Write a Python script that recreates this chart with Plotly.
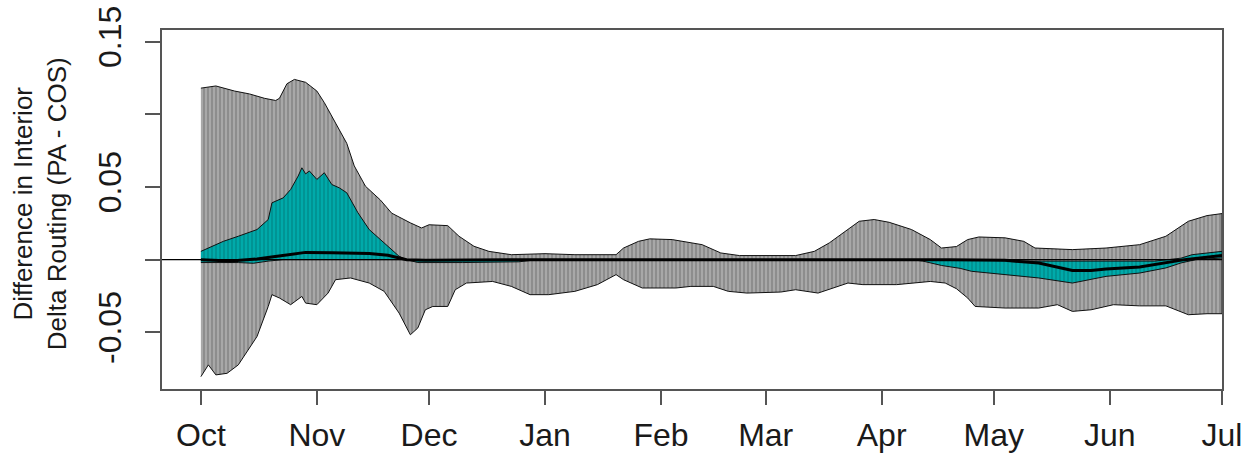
import pandas as pd
import plotly.graph_objects as go

# days since 1 Oct (water year)
max_days = [0, 4, 9, 13, 17, 20, 21, 23, 25, 28, 31, 33, 36, 39, 41, 44, 48, 51, 56, 59, 61, 66, 69, 73, 77,
            83, 92, 100, 111, 113, 117, 120, 126, 131, 134, 139, 144, 159, 164, 168, 173, 176, 180, 184, 190,
            195, 198, 202, 205, 208, 215, 220, 223, 233, 242, 251, 258, 264, 269, 273]
max_vals = [0.118, 0.1195, 0.116, 0.114, 0.111, 0.1095, 0.111, 0.121, 0.124, 0.122, 0.116, 0.108, 0.094, 0.080,
            0.0645, 0.0505, 0.041, 0.032, 0.0253, 0.0218, 0.024, 0.0234, 0.0161, 0.0092, 0.0057, 0.0034, 0.0041,
            0.0034, 0.0034, 0.008, 0.0126, 0.0143, 0.0138, 0.0115, 0.0103, 0.0046, 0.0028, 0.0028, 0.0057, 0.0115,
            0.0207, 0.0264, 0.0276, 0.0257, 0.0207, 0.0138, 0.008, 0.009, 0.0138, 0.0156, 0.015, 0.0126, 0.008,
            0.0069, 0.008, 0.0103, 0.0161, 0.0264, 0.0303, 0.0317]

min_days = [0, 2, 4, 7, 10, 12, 15, 18, 19, 21, 24, 27, 28, 31, 34, 36, 40, 45, 49, 53, 56, 58, 60, 62, 66, 68,
            71, 78, 83, 88, 93, 100, 106, 111, 113, 118, 127, 131, 137, 141, 146, 155, 159, 165, 168, 173, 177,
            186, 195, 199, 202, 205, 207, 215, 224, 229, 233, 238, 244, 251, 258, 264, 269, 273]
min_vals = [-0.0805, -0.0724, -0.0793, -0.0782, -0.0724, -0.0644, -0.0529, -0.0322, -0.0241, -0.0264, -0.031,
            -0.0253, -0.0299, -0.031, -0.023, -0.0138, -0.0126, -0.0161, -0.0218, -0.0368, -0.0517, -0.047,
            -0.0345, -0.0322, -0.0322, -0.0207, -0.0161, -0.015, -0.0184, -0.0241, -0.0241, -0.0218, -0.0172,
            -0.0103, -0.0138, -0.0195, -0.0195, -0.0184, -0.0184, -0.0218, -0.023, -0.0223, -0.0207, -0.023,
            -0.0207, -0.0161, -0.0172, -0.0172, -0.015, -0.0161, -0.02, -0.0264, -0.0322, -0.0333, -0.0333,
            -0.031, -0.0356, -0.0345, -0.031, -0.0318, -0.0318, -0.0379, -0.0372, -0.0372]

q75_days = [0, 6, 10, 15, 18, 19, 22, 24, 26, 27, 28, 29, 31, 33, 35, 37, 39, 42, 45, 49, 53, 55, 60, 190, 200,
            210, 220, 240, 255, 262, 265, 273]
q75_vals = [0.0057, 0.0126, 0.0161, 0.0207, 0.0276, 0.0391, 0.0425, 0.0483, 0.0575, 0.0632, 0.059, 0.061, 0.0552,
            0.0598, 0.0517, 0.0494, 0.046, 0.0322, 0.0207, 0.0115, 0.0023, 0.0, -0.0005, 0.0, 0.0, -0.0005, -0.001,
            -0.001, -0.001, 0.001, 0.0034, 0.0057]

q25_days = [0, 10, 14, 18, 22, 55, 58, 70, 85, 90, 190, 193, 198, 203, 206, 215, 224, 233, 237, 242, 251, 258,
            262, 266, 273]
q25_vals = [-0.002, -0.002, -0.0025, -0.001, 0.0, 0.0, -0.002, -0.002, -0.0015, 0.0, 0.0, -0.001, -0.004, -0.006,
            -0.008, -0.0103, -0.0126, -0.0161, -0.014, -0.0115, -0.0092, -0.0057, -0.0023, 0.0, 0.0011]

med_days = [0, 8, 15, 22, 28, 35, 45, 50, 55, 60, 90, 200, 215, 224, 229, 233, 238, 242, 251, 258, 263, 273]
med_vals = [0.0, -0.001, 0.0005, 0.003, 0.005, 0.0048, 0.0042, 0.003, 0.0, -0.0005, 0.0, 0.0, -0.0005, -0.0023,
            -0.005, -0.0074, -0.0074, -0.0064, -0.005, -0.0023, 0.0, 0.0028]

month_labels = ["Oct", "Nov", "Dec", "Jan", "Feb", "Mar", "Apr", "May", "Jun", "Jul"]
y_ticks = [-0.05, 0.0, 0.05, 0.10, 0.15]
y_ticktext = ["-0.05", "", "0.05", "", "0.15"]

start = pd.Timestamp("2000-10-01")


def to_dates(days):
    return start + pd.to_timedelta(days, unit="D")


def band(top_d, top_v, bot_d, bot_v):
    x = list(to_dates(top_d)) + list(to_dates(bot_d[::-1]))
    y = list(top_v) + list(bot_v[::-1])
    return x, y


fig = go.Figure()

# full range envelope (grey, vertical hatching)
bx, by = band(max_days, max_vals, min_days, min_vals)
fig.add_trace(go.Scatter(
    x=bx, y=by, mode="lines", fill="toself",
    line=dict(color="#111111", width=1),
    fillcolor="#a4a4a4",
    fillpattern=dict(shape="|", bgcolor="#a8a8a8", fgcolor="#5a5a5a", size=4, solidity=0.35),
    hoverinfo="skip", showlegend=False
))

# inter-quartile band (teal)
tx, ty = band(q75_days, q75_vals, q25_days, q25_vals)
fig.add_trace(go.Scatter(
    x=tx, y=ty, mode="lines", fill="toself",
    line=dict(color="#111111", width=1),
    fillcolor="#00a6a6",
    fillpattern=dict(shape="|", bgcolor="#00aaaa", fgcolor="#006a6a", size=4, solidity=0.35),
    hoverinfo="skip", showlegend=False
))

# median
fig.add_trace(go.Scatter(
    x=to_dates(med_days), y=med_vals, mode="lines",
    line=dict(color="black", width=3), showlegend=False
))

fig.add_shape(type="line", xref="paper", x0=0, x1=1, yref="y", y0=0, y1=0,
              line=dict(color="black", width=1.2))

fig.add_annotation(
    text="Difference in Interior<br>Delta Routing (PA - COS)",
    xref="paper", yref="paper", x=-0.115, y=0.515, textangle=-90,
    showarrow=False, xanchor="center", yanchor="middle",
    font=dict(family="Liberation Sans, Arial", size=26, color="#1a1a1a")
)

tick_dates = pd.date_range("2000-10-01", "2001-07-01", freq="MS")

fig.update_layout(
    width=1251, height=453,
    margin=dict(l=162, r=29, t=30, b=64),
    paper_bgcolor="white", plot_bgcolor="white",
    font=dict(family="Liberation Sans, Arial", color="#1a1a1a"),
    xaxis=dict(
        range=[start - pd.Timedelta(days=10.4), start + pd.Timedelta(days=273)],
        tickvals=tick_dates, ticktext=month_labels, automargin=False,
        ticks="outside", ticklen=14, tickwidth=1.5, tickcolor="#555555",
        showline=True, linecolor="#555555", linewidth=1.5, mirror=True,
        showgrid=False, zeroline=False, tickfont=dict(size=32),
        ticklabelstandoff=3
    ),
    yaxis=dict(
        range=[-0.089, 0.158], automargin=False,
        tickvals=y_ticks, ticktext=y_ticktext, tickangle=-90,
        ticks="outside", ticklen=15, tickwidth=1.5, tickcolor="#555555",
        showline=True, linecolor="#555555", linewidth=1.5, mirror=True,
        showgrid=False, zeroline=False, tickfont=dict(size=32),
        ticklabelstandoff=11
    ),
)

# page body margin would shift the fixed-size figure; remove it
fig.write_html("out.html", config={"displayModeBar": False},
               post_script="document.body.style.margin='0';document.body.style.overflow='hidden';")
